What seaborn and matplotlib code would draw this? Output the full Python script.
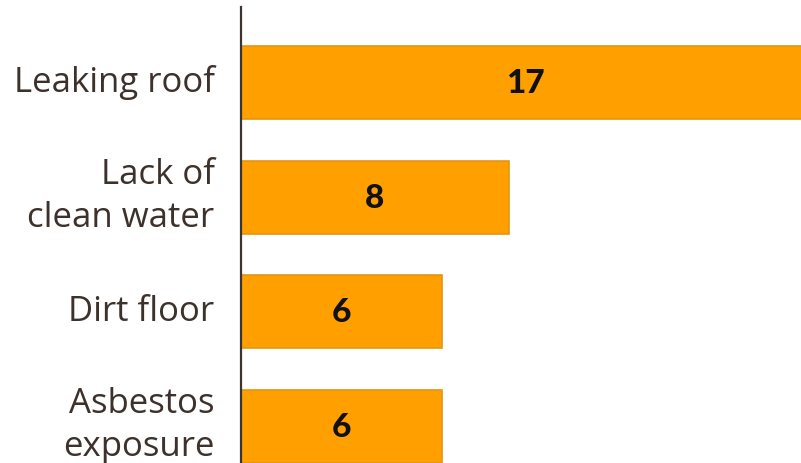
import matplotlib
matplotlib.use("Agg")
import matplotlib.pyplot as plt
import matplotlib.transforms as mtransforms
import seaborn as sns
import pandas as pd

categories = ["Leaking roof", "Lack of\nclean water", "Dirt floor", "Asbestos\nexposure"]
counts = [17, 8, 6, 6]

df = pd.DataFrame({"issue": categories, "count": counts})

sns.set_style("white")
plt.rcParams["font.family"] = ["Open Sans", "DejaVu Sans"]

fig = plt.figure(figsize=(8.01, 4.64), dpi=100)
ax = fig.add_axes([241 / 801, 0, 560 / 801, 456 / 464])

sns.barplot(data=df, x="count", y="issue", orient="h", color="#FFA000",
            saturation=1, width=0.64, edgecolor="#E39612", linewidth=1.2, ax=ax)

for patch, v in zip(ax.patches, counts):
    y = patch.get_y() + patch.get_height() / 2
    ax.text(v / 2, y, str(v), ha="center", va="center", fontsize=24,
            fontweight="black", family=["Lato", "DejaVu Sans"], color="#111111")

ax.set_xlim(0, 16.72)
ax.set_ylim(3.32, -0.66)
ax.set_xlabel("")
ax.set_ylabel("")
ax.set_xticks([])
for s in ["top", "right", "bottom"]:
    ax.spines[s].set_visible(False)
ax.spines["left"].set_color("#3a3330")
ax.spines["left"].set_linewidth(1.6)
ax.tick_params(axis="y", length=0, pad=19, labelsize=25, labelcolor="#3d312b")

# nudge the category labels up so each block sits centred on its bar
for lbl in ax.get_yticklabels():
    two_lines = "\n" in lbl.get_text()
    lbl.set_linespacing(1.32)
    up = (10 if two_lines else 5) / 100
    lbl.set_transform(lbl.get_transform()
                      + mtransforms.ScaledTranslation(0, up, fig.dpi_scale_trans))

fig.savefig("out.png", dpi=100)
